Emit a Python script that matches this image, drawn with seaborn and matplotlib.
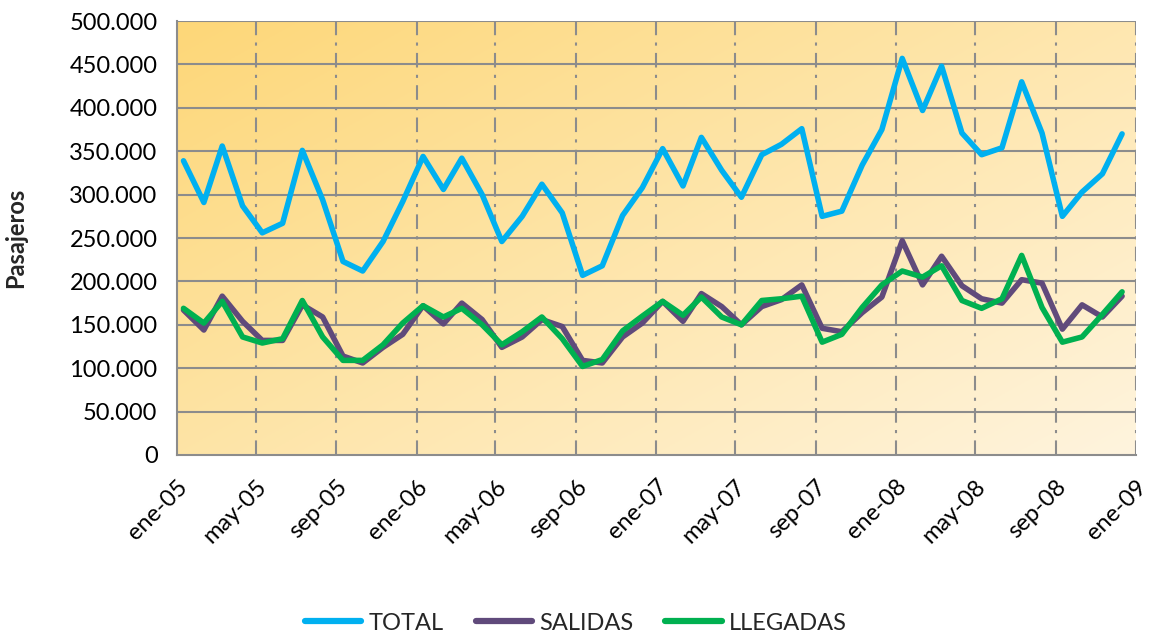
import numpy as np
import pandas as pd
import matplotlib
matplotlib.use('Agg')
import matplotlib.pyplot as plt
from matplotlib.ticker import FuncFormatter
import seaborn as sns

sns.set_style("white")
plt.rcParams['font.family'] = ['Lato', 'DejaVu Sans']

# ===============================
# Data (pasajeros por mes, ene-05 .. dic-08)
# ===============================
fechas = pd.date_range('2005-01-01', periods=48, freq='MS') + pd.Timedelta(days=10)

total = [339, 291, 356, 287, 256, 267, 351, 294, 223, 212, 246, 292,
         344, 306, 342, 300, 246, 275, 312, 279, 207, 218, 276, 308,
         353, 310, 366, 328, 297, 346, 358, 376, 275, 281, 334, 375,
         457, 397, 448, 371, 346, 354, 430, 371, 275, 303, 324, 370]
salidas = [167, 144, 183, 154, 132, 132, 173, 159, 114, 106, 124, 139,
           172, 151, 175, 156, 124, 136, 156, 148, 109, 106, 136, 152,
           177, 154, 186, 171, 150, 171, 179, 196, 146, 142, 164, 182,
           247, 196, 229, 195, 180, 175, 202, 198, 145, 173, 159, 183]
llegadas = [169, 152, 177, 136, 129, 134, 178, 136, 109, 109, 127, 152,
            172, 159, 169, 150, 127, 142, 159, 134, 102, 110, 143, 160,
            177, 161, 182, 159, 150, 178, 180, 183, 130, 139, 170, 196,
            212, 205, 218, 178, 169, 180, 230, 170, 130, 136, 162, 188]

series = ['TOTAL', 'SALIDAS', 'LLEGADAS']
colores = {'TOTAL': '#00B0F0', 'SALIDAS': '#604A7B', 'LLEGADAS': '#00B050'}

tick_fechas = pd.date_range('2005-01-01', '2009-01-01', freq='4MS')
tick_labels = ['ene-05', 'may-05', 'sep-05', 'ene-06', 'may-06', 'sep-06',
               'ene-07', 'may-07', 'sep-07', 'ene-08', 'may-08', 'sep-08', 'ene-09']

df = pd.DataFrame({
    'fecha': np.tile(fechas, 3),
    'serie': np.repeat(series, 48),
    'pasajeros': np.array(total + salidas + llegadas) * 1000,
})

# ===============================
# Plot
# ===============================
fig = plt.figure(figsize=(11.52, 6.39), dpi=100)
ax = fig.add_axes([0.1536, 0.288, 0.986 - 0.1536, 0.967 - 0.288])

# background gradient (dark top-left -> light bottom-right)
xx, yy = np.meshgrid(np.linspace(0, 1, 300), np.linspace(1, 0, 200))
t = np.clip((xx * 0.55 + (1 - yy) * 0.45), 0, 1)
c0 = np.array([253, 215, 120]) / 255
c1 = np.array([255, 244, 222]) / 255
grad = c0[None, None, :] * (1 - t[..., None]) + c1[None, None, :] * t[..., None]
ax.imshow(grad, extent=[0, 1, 0, 1], transform=ax.transAxes, aspect='auto', zorder=0)

for s in ['SALIDAS', 'LLEGADAS', 'TOTAL']:
    sns.lineplot(data=df[df['serie'] == s], x='fecha', y='pasajeros',
                 color=colores[s], linewidth=4, ax=ax, label=s, zorder=3,
                 solid_joinstyle='round', solid_capstyle='round')

ax.set_xlim(pd.Timestamp('2005-01-01'), pd.Timestamp('2009-01-01'))
ax.set_ylim(0, 500000)
ax.set_yticks(np.arange(0, 500001, 50000))
ax.yaxis.set_major_formatter(FuncFormatter(lambda v, p: f"{int(v):,}".replace(',', '.')))
ax.set_xticks(tick_fechas)
ax.set_xticklabels(tick_labels, rotation=45, ha='right', rotation_mode='anchor')

gris = '#8C8C8C'
for v in np.arange(50000, 500001, 50000):
    ax.axhline(v, color=gris, linewidth=1.5, zorder=1)
for d in tick_fechas[1:]:
    ax.axvline(d, color=gris, linewidth=1.5, linestyle=(0, (7, 3.5, 1.5, 3.5)), zorder=1)

for side in ['top', 'right']:
    ax.spines[side].set_visible(False)
for side in ['left', 'bottom']:
    ax.spines[side].set_color(gris)
    ax.spines[side].set_linewidth(1.5)
ax.tick_params(axis='both', direction='out', length=6, width=1.5, color=gris,
               labelsize=17, labelcolor='black')
ax.tick_params(axis='y', pad=8)
ax.tick_params(axis='x', pad=9)

ax.set_xlabel('')
ax.set_ylabel('Pasajeros', fontsize=17, fontweight='bold', labelpad=30)

handles, labels = ax.get_legend_handles_labels()
orden = [labels.index(s) for s in series]
leg = ax.legend([handles[i] for i in orden], series, loc='lower center',
                bbox_to_anchor=(0.5, -0.025), bbox_transform=fig.transFigure,
                ncol=3, frameon=False, fontsize=17, handlelength=2.4,
                columnspacing=1.35, handletextpad=0.3)
for ln in leg.get_lines():
    ln.set_linewidth(4.5)
    ln.set_solid_capstyle('round')

plt.savefig('out.png', dpi=100)
